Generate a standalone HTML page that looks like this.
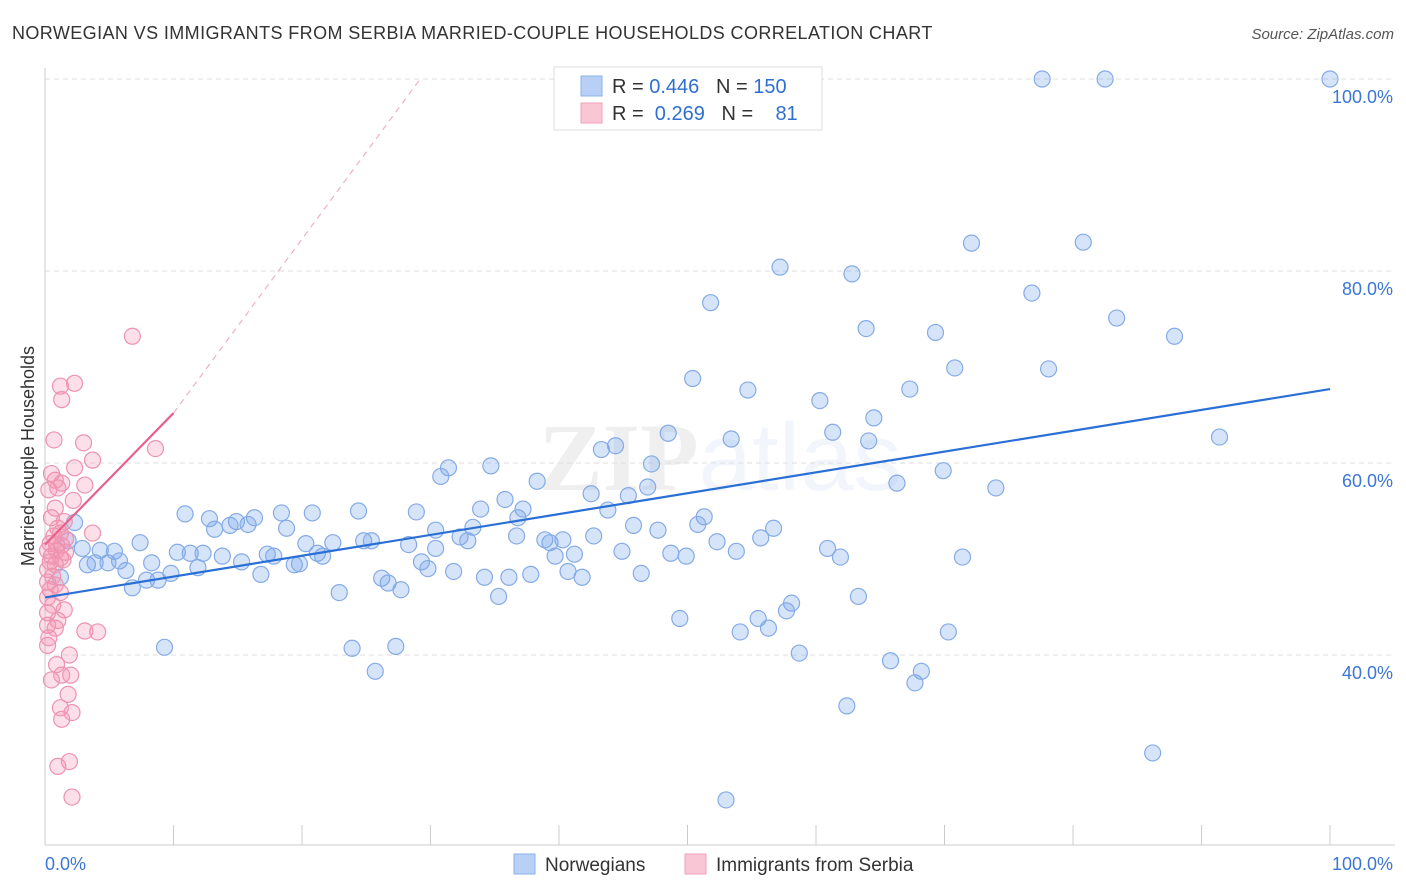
<!DOCTYPE html>
<html><head><meta charset="utf-8"><style>
body{margin:0;background:#fff;font-family:"Liberation Sans",sans-serif;}
svg{display:block}
</style></head><body>
<svg id="chart" width="1406" height="892">
<text x="12" y="39" font-size="18" fill="#333" letter-spacing="0.4">NORWEGIAN VS IMMIGRANTS FROM SERBIA MARRIED-COUPLE HOUSEHOLDS CORRELATION CHART</text>
<text x="1394" y="39" font-size="15" fill="#555" font-style="italic" text-anchor="end">Source: ZipAtlas.com</text>
<text x="720" y="490" font-size="96" fill="#000" opacity="0.06" text-anchor="middle" font-family="Liberation Serif" font-weight="bold">ZIP<tspan fill="#3a6fd0" font-family="Liberation Sans" font-weight="normal">atlas</tspan></text>
<g id="grid"></g><g id="axes"></g><g id="marks"></g>
<text x="34" y="456" font-size="18" fill="#333" text-anchor="middle" transform="rotate(-90 34 456)">Married-couple Households</text>
<g>
<rect x="554" y="67" width="268" height="63" fill="#fff" stroke="#ddd"/>
<rect x="581" y="76" width="21" height="20" fill="#b8d0f5" stroke="#8ab0e8"/>
<rect x="581" y="103" width="21" height="20" fill="#f9c6d6" stroke="#f0a0bb"/>
<text x="612" y="93" font-size="20" fill="#333">R = <tspan fill="#2f6fd0">0.446</tspan>&#160;&#160;&#160;N = <tspan fill="#2f6fd0">150</tspan></text>
<text x="612" y="120" font-size="20" fill="#333">R = &#160;<tspan fill="#2f6fd0">0.269</tspan>&#160;&#160;&#160;N = &#160;&#160;&#160;<tspan fill="#2f6fd0">81</tspan></text>
</g>
<g>
<rect x="514" y="854" width="21" height="20" fill="#b8d0f5" stroke="#8ab0e8"/>
<text x="545" y="871" font-size="19" fill="#333">Norwegians</text>
<rect x="685" y="854" width="21" height="20" fill="#f9c6d6" stroke="#f0a0bb"/>
<text x="716" y="871" font-size="19" fill="#333">Immigrants from Serbia</text>
</g>
</svg>
<script>
const blueX=[77.6,82.5,100,72.1,80.8,57.2,62.8,51.8,76.8,63.9,69.3,83.4,87.9,50.4,54.7,67.3,70.8,78.1,60.3,64.5,48.5,53.4,61.3,64.1,91.4,43.3,44.4,31.4,34.7,47.2,69.9,30.8,38.3,46.9,66.3,74.0,42.5,45.4,35.8,10.9,18.4,20.8,24.4,28.9,33.9,37.2,43.8,51.3,2.3,12.8,14.9,16.3,14.4,15.8,36.8,33.3,30.4,45.8,47.7,50.8,56.7,13.2,18.8,7.4,20.3,22.4,24.8,25.4,28.3,32.3,32.9,36.7,38.9,39.3,40.3,42.7,52.3,55.7,60.9,1.8,2.9,4.3,5.4,10.3,11.3,12.3,13.8,17.3,17.8,21.2,21.6,30.4,39.7,41.2,44.9,48.7,49.9,53.8,61.9,71.4,3.3,3.9,4.9,5.8,8.3,15.3,19.4,19.8,29.3,29.8,6.3,11.9,9.8,31.8,40.7,1.2,7.9,8.8,16.8,26.2,26.7,34.2,36.1,37.8,41.8,46.4,6.8,22.9,27.7,35.3,63.3,58.1,57.7,55.5,49.4,54.1,56.3,70.3,9.3,23.9,27.3,58.7,65.8,68.2,67.7,25.7,62.4,86.2,53.0];
const blueY=[100,100,100,82.9,83.0,80.4,79.7,76.7,77.7,74.0,73.6,75.1,73.2,68.8,67.6,67.7,69.9,69.8,66.5,64.7,63.1,62.5,63.2,62.3,62.7,61.4,61.8,59.5,59.7,59.9,59.2,58.6,58.1,57.5,57.9,57.4,56.8,56.6,56.2,54.7,54.8,54.8,55.0,54.9,55.2,55.2,55.1,54.4,53.8,54.2,53.9,54.3,53.5,53.6,54.3,53.3,53.0,53.5,53.0,53.6,53.2,53.1,53.2,51.7,51.6,51.7,51.9,51.9,51.5,52.3,51.9,52.4,52.0,51.7,52.0,52.4,51.8,52.2,51.1,51.9,51.1,50.9,50.8,50.7,50.6,50.6,50.3,50.5,50.3,50.6,50.3,51.1,50.3,50.5,50.8,50.6,50.3,50.8,50.2,50.2,49.4,49.6,49.6,49.8,49.6,49.7,49.4,49.5,49.7,49.0,48.8,49.1,48.5,48.7,48.7,48.1,47.8,47.8,48.4,48.0,47.5,48.1,48.1,48.4,48.1,48.5,47.0,46.5,46.8,46.1,46.1,45.4,44.6,43.8,43.8,42.4,42.8,42.4,40.8,40.7,40.9,40.2,39.4,38.3,37.1,38.3,34.7,29.8,24.9];
const pinkX=[6.8,1.2,2.3,1.3,8.6,0.7,3.0,3.7,2.3,0.5,0.8,1.3,3.1,0.3,1.0,2.2,0.8,0.5,1.5,1.0,3.7,1.2,0.7,1.6,0.4,0.9,1.3,0.2,0.9,1.6,0.5,1.2,0.4,0.8,1.4,0.2,0.6,0.2,0.8,0.4,1.2,0.2,0.6,1.5,0.2,1.0,0.2,0.8,3.1,4.1,0.3,0.2,1.9,0.9,1.3,2.0,0.5,1.8,1.2,2.1,1.3,1.0,1.9,2.1];
const pinkY=[73.2,68.0,68.3,66.6,61.5,62.4,62.1,60.3,59.5,58.9,58.2,57.9,57.7,57.2,57.4,56.1,55.3,54.3,53.9,53.2,52.7,52.7,52.4,52.1,51.6,51.5,51.4,50.9,50.9,50.7,50.3,50.1,49.7,49.4,49.9,48.9,48.2,47.6,47.3,46.8,46.5,46.0,45.2,44.7,44.4,43.6,43.1,42.8,42.5,42.4,41.8,41.0,40.0,39.0,37.9,37.9,37.4,35.9,34.5,34.0,33.3,28.4,28.9,25.2];
const blueLine=[46.0,67.7];
const pinkLine=[51.5,65.2];
const pinkDashEnd=[29.2,100];
const yTicks=[40,60,80,100];
const yTickLabels=["40.0%","60.0%","80.0%","100.0%"];
const NS="http://www.w3.org/2000/svg";
const X=v=>45+v*12.85, Y=v=>1039-v*9.6;
function mk(parent,tag,attrs){const e=document.createElementNS(NS,tag);for(const k in attrs)e.setAttribute(k,attrs[k]);document.getElementById(parent).appendChild(e);return e;}
yTicks.forEach((t,i)=>{
 const l=mk('grid','line',{x1:45,x2:1395,y1:Y(t),y2:Y(t),stroke:'#ddd','stroke-dasharray':'5,4'});
 
 
 const tx=mk('grid','text',{x:1393,y:Y(t)+24,'font-size':18,fill:'#3a76d6','text-anchor':'end'});
 tx.textContent=yTickLabels[i];
 
 
});
mk('axes','line',{x1:45,x2:45,y1:68,y2:845,stroke:'#ccc'});
mk('axes','line',{x1:45,x2:1395,y1:845,y2:845,stroke:'#ccc'});
for(let i=0;i<=10;i++){const t=mk('axes','line',{x1:X(i*10),x2:X(i*10),y1:825,y2:845,stroke:'#ccc'});}
let a=mk('axes','text',{x:45,y:870,'font-size':18,fill:'#3a76d6'});a.textContent='0.0%';
a=mk('axes','text',{x:1393,y:870,'font-size':18,fill:'#3a76d6','text-anchor':'end'});a.textContent='100.0%';
blueX.forEach((x,i)=>{const c=mk('marks','circle',{cx:X(x),cy:Y(blueY[i]),r:8,fill:'rgba(120,165,235,0.3)',stroke:'#85abe6','stroke-width':1.2});
 
 });
pinkX.forEach((x,i)=>{const c=mk('marks','circle',{cx:X(x),cy:Y(pinkY[i]),r:8,fill:'rgba(245,150,180,0.3)',stroke:'#ec93b0','stroke-width':1.2});
 
 });
let d=mk('marks','line',{x1:X(10),y1:Y(pinkLine[1]),x2:X(pinkDashEnd[0]),y2:Y(pinkDashEnd[1]),stroke:'#f0b0c4','stroke-width':1.2,'stroke-dasharray':'6,5'});

let p=mk('marks','line',{x1:X(0),y1:Y(pinkLine[0]),x2:X(10),y2:Y(pinkLine[1]),stroke:'#e8608c','stroke-width':2.2});

let b=mk('marks','line',{x1:X(0),y1:Y(blueLine[0]),x2:X(100),y2:Y(blueLine[1]),stroke:'#2a6fd6','stroke-width':2.2});

</script>
</body></html>
